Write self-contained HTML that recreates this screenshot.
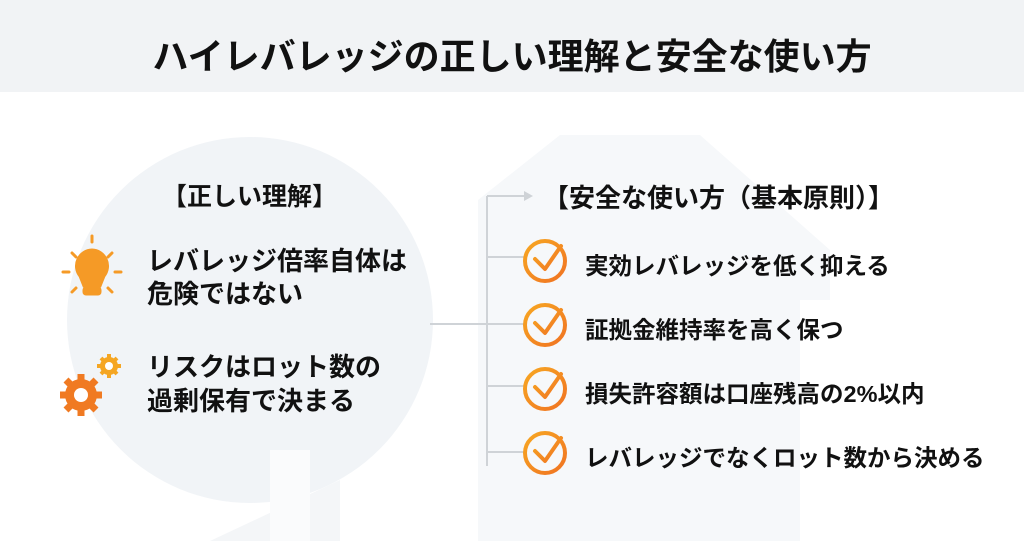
<!DOCTYPE html>
<html><head><meta charset="utf-8"><style>
body{margin:0;width:1024px;height:541px;overflow:hidden;background:#fff;font-family:"Liberation Sans","Noto Sans CJK JP",sans-serif;color:#111;position:relative}
.hdr{position:absolute;left:0;top:0;width:1024px;height:92px;background:#f1f3f5}
.t{position:absolute;white-space:nowrap;font-weight:700}
</style></head><body>
<div class="hdr"></div>
<svg style="position:absolute;left:0;top:0" width="1024" height="541">
<defs><linearGradient id="g" x1="0" y1="0" x2="1" y2="1"><stop offset="0" stop-color="#f7a722"/><stop offset="1" stop-color="#f07322"/></linearGradient></defs>
<circle cx="250" cy="320" r="183" fill="#f1f4f7"/>
<path d="M340 541 L340 480 L210 541 Z" fill="#f4f6f8"/>
<rect x="270" y="450" width="40" height="91" fill="#fafbfc"/>
<path d="M478 541 L478 200 L560 135 L700 135 L830 250 L830 300 L800 300 L800 541 Z" fill="#f6f8fa"/>
<g stroke="#cfd3d7" stroke-width="2" fill="none">
<path d="M430 324 H487 M487 196 V466 M487 196 H527 M487 257 H525 M487 324 H525 M487 386 H525 M487 452 H525"/>
</g>
<path d="M524 191 L533 196 L524 201 Z" fill="#cfd3d7"/>
<g fill="none" stroke="url(#g)" stroke-width="4" stroke-linecap="round" stroke-linejoin="round">
<circle cx="545" cy="261" r="20"/><path d="M535 259 L545 269 L561 246"/>
<circle cx="545" cy="325" r="20"/><path d="M535 323 L545 333 L561 310"/>
<circle cx="545" cy="389" r="20"/><path d="M535 387 L545 397 L561 374"/>
<circle cx="545" cy="453" r="20"/><path d="M535 451 L545 461 L561 438"/>
</g>
<g fill="#f59a26" stroke="#f59a26" stroke-width="3" stroke-linecap="round">
<path d="M92 250 A16 16 0 0 1 104 276 L100 286 H84 L80 276 A16 16 0 0 1 92 250Z"/>
<rect x="84" y="288" width="16" height="6" rx="2"/>
<line x1="92" y1="242" x2="92" y2="236" /><line x1="63" y1="272" x2="69" y2="272"/><line x1="115" y1="272" x2="121" y2="272"/>
<line x1="72" y1="253" x2="76" y2="257"/><line x1="112" y1="253" x2="108" y2="257"/>
<line x1="72" y1="292" x2="76" y2="288"/><line x1="112" y1="292" x2="108" y2="288"/>
</g>
<g fill="#f07a22">
<circle cx="81" cy="395" r="16"/>
<g stroke="#f07a22" stroke-width="7"><line x1="81" y1="374" x2="81" y2="416"/><line x1="60" y1="395" x2="102" y2="395"/><line x1="66" y1="380" x2="96" y2="410"/><line x1="96" y1="380" x2="66" y2="410"/></g>
<circle cx="81" cy="395" r="7" fill="#fff"/>
</g>
<g fill="#f5a623">
<circle cx="109" cy="366" r="9"/>
<g stroke="#f5a623" stroke-width="4"><line x1="109" y1="354" x2="109" y2="378"/><line x1="97" y1="366" x2="121" y2="366"/><line x1="101" y1="358" x2="117" y2="374"/><line x1="117" y1="358" x2="101" y2="374"/></g>
<circle cx="109" cy="366" r="4" fill="#fff"/>
</g>
</svg>
<div class="t" style="left:0;width:1024px;text-align:center;top:28px;font-size:36px">ハイレバレッジの正しい理解と安全な使い方</div>
<div class="t" style="left:162px;top:177px;font-size:25px">【正しい理解】</div>
<div class="t" style="left:147px;top:245px;font-size:26px;line-height:33px">レバレッジ倍率自体は<br>危険ではない</div>
<div class="t" style="left:147px;top:350px;font-size:26px;line-height:34px">リスクはロット数の<br>過剰保有で決まる</div>
<div class="t" style="left:543px;top:178px;font-size:26px">【安全な使い方（基本原則）】</div>
<div class="t" style="left:585px;top:247px;font-size:23.5px">実効レバレッジを低く抑える</div>
<div class="t" style="left:585px;top:311px;font-size:23.5px">証拠金維持率を高く保つ</div>
<div class="t" style="left:585px;top:375px;font-size:23.5px">損失許容額は口座残高の2%以内</div>
<div class="t" style="left:585px;top:439px;font-size:23.5px">レバレッジでなくロット数から決める</div>
</body></html>
